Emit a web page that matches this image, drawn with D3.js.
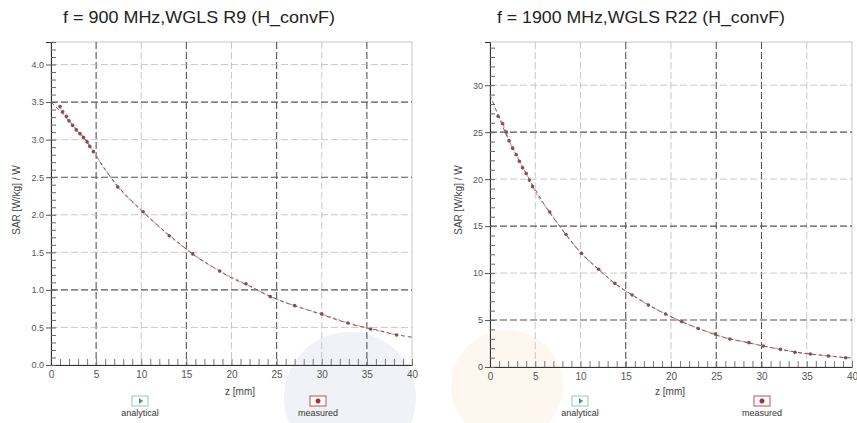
<!DOCTYPE html>
<html>
<head>
<meta charset="utf-8">
<script src="https://cdn.jsdelivr.net/npm/d3@7"></script>
<style>
body { margin: 0; background: #fff; }
text { font-family: "Liberation Sans", Arial, sans-serif; }
</style>
</head>
<body>
<div id="chart"></div>
<script>
// ---- data ----
var xTicks = [0, 5, 10, 15, 20, 25, 30, 35, 40];

var title900 = "f = 900 MHz,WGLS R9 (H_convF)";
var yTicks900 = [0, 0.5, 1.0, 1.5, 2.0, 2.5, 3.0, 3.5, 4.0];
var zMeas900 = [1.0, 1.3, 1.7, 2.0, 2.4, 2.8, 3.2, 3.6, 4.0, 4.3, 4.7, 7.4, 10.2, 13.1, 15.7, 18.7, 21.6, 24.3, 27.0, 30.0, 32.9, 35.4, 38.3];
var sarMeas900 = [3.44, 3.37, 3.31, 3.25, 3.19, 3.13, 3.08, 3.03, 2.97, 2.91, 2.84, 2.37, 2.04, 1.72, 1.48, 1.25, 1.08, 0.91, 0.79, 0.68, 0.56, 0.48, 0.40];
var zAna900 = [0, 2, 4, 6, 8, 10, 12, 14, 16, 18, 20, 22, 24, 26, 28, 30, 32, 34, 36, 38, 40];
var sarAna900 = [3.50, 3.25, 2.97, 2.60, 2.30, 2.06, 1.84, 1.64, 1.45, 1.30, 1.16, 1.05, 0.93, 0.83, 0.75, 0.67, 0.59, 0.52, 0.47, 0.41, 0.37];

var title1900 = "f = 1900 MHz,WGLS R22 (H_convF)";
var yTicks1900 = [0, 5, 10, 15, 20, 25, 30];
var zMeas1900 = [0.9, 1.4, 1.8, 2.1, 2.5, 2.9, 3.25, 3.6, 4.0, 4.35, 4.7, 6.6, 8.4, 10.1, 12.0, 13.8, 15.7, 17.5, 19.4, 21.2, 23.0, 24.9, 26.5, 28.6, 30.2, 32.1, 33.7, 35.4, 37.4, 39.3];
var sarMeas1900 = [26.7, 25.9, 25.0, 24.1, 23.3, 22.6, 21.9, 21.2, 20.6, 19.9, 19.2, 16.5, 14.1, 12.1, 10.4, 8.9, 7.66, 6.6, 5.64, 4.82, 4.1, 3.5, 2.98, 2.59, 2.23, 1.88, 1.56, 1.38, 1.17, 0.99];
var zAna1900 = [0, 2, 4, 6, 8, 10, 12, 14, 16, 18, 20, 22, 24, 26, 28, 30, 32, 34, 36, 38, 40];
var sarAna1900 = [29.0, 24.3, 20.6, 17.3, 14.6, 12.2, 10.4, 8.75, 7.5, 6.35, 5.35, 4.5, 3.75, 3.1, 2.7, 2.27, 1.9, 1.56, 1.32, 1.12, 0.95];

var legendLabels = ["analytical", "measured"];

var svg = d3.select("#chart").append("svg")
    .attr("width", 857)
    .attr("height", 423);

// faint round blotches in the scan
svg.append("circle").attr("cx", 350).attr("cy", 398).attr("r", 66).attr("fill", "#f0f2f7");
svg.append("circle").attr("cx", 507).attr("cy", 386).attr("r", 56).attr("fill", "#fef7ef");

function panel(p) {
  var x = d3.scaleLinear().domain([0, 40]).range([p.left, p.right]);
  var y = d3.scaleLinear().domain([0, p.yMax]).range([p.bottom, p.top]);
  var g = svg.append("g");

  // frame
  g.append("rect")
      .attr("x", p.left).attr("y", p.top)
      .attr("width", p.right - p.left).attr("height", p.bottom - p.top)
      .attr("fill", "none").attr("stroke", "#c8c8c8");

  // grid
  g.selectAll(".vg").data(xTicks.slice(1, -1)).enter().append("line")
      .attr("x1", function(d) { return x(d); }).attr("x2", function(d) { return x(d); })
      .attr("y1", p.top).attr("y2", p.bottom)
      .attr("stroke", function(d) { return p.darkX.indexOf(d) >= 0 ? "#555" : "#bbb"; })
      .attr("stroke-width", function(d) { return p.darkX.indexOf(d) >= 0 ? 1.1 : 0.8; })
      .attr("stroke-dasharray", "7,3");
  g.selectAll(".hg").data(p.yTicks.slice(1)).enter().append("line")
      .attr("x1", p.left).attr("x2", p.right)
      .attr("y1", function(d) { return y(d); }).attr("y2", function(d) { return y(d); })
      .attr("stroke", function(d) { return p.darkY.indexOf(d) >= 0 ? "#555" : "#bbb"; })
      .attr("stroke-width", function(d) { return p.darkY.indexOf(d) >= 0 ? 1.1 : 0.8; })
      .attr("stroke-dasharray", "7,3");

  // axes
  var xAxis = d3.axisBottom(x).tickValues(xTicks).tickSize(0).tickPadding(6);
  var gx = g.append("g").attr("transform", "translate(0," + p.bottom + ")").call(xAxis);
  gx.select(".domain").attr("stroke", "#333");
  gx.selectAll("text").attr("font-size", 10).attr("fill", "#555");

  var xMinor = d3.axisTop(x).ticks(40).tickSize(6).tickFormat("");
  var gxm = g.append("g").attr("transform", "translate(0," + p.bottom + ")").call(xMinor);
  gxm.select(".domain").remove();
  gxm.selectAll("line").attr("stroke", "#777");

  var yAxis = d3.axisLeft(y).tickValues(p.yTicks).tickSize(5).tickPadding(2).tickFormat(d3.format(p.fmt));
  var gy = g.append("g").attr("transform", "translate(" + p.left + ",0)").call(yAxis);
  gy.select(".domain").attr("stroke", "#333");
  gy.selectAll("line").attr("stroke", "#555");
  gy.selectAll("text").attr("font-size", 9).attr("fill", "#555");

  var yMinor = d3.axisRight(y).ticks(p.minorN).tickSize(5).tickFormat("");
  var gym = g.append("g").attr("transform", "translate(" + p.left + ",0)").call(yMinor);
  gym.select(".domain").remove();
  gym.selectAll("line").attr("stroke", "#666");

  // curves
  var line = d3.line().x(function(d) { return x(d[0]); }).y(function(d) { return y(d[1]); }).curve(d3.curveMonotoneX);
  var ana = d3.zip(p.zAna, p.sarAna);
  var meas = d3.zip(p.zMeas, p.sarMeas);
  g.append("path").datum(meas).attr("d", line)
      .attr("fill", "none").attr("stroke", "#e89a9a").attr("stroke-width", 1.2).attr("stroke-dasharray", "3,2");
  g.append("path").datum(ana).attr("d", line)
      .attr("fill", "none").attr("stroke", "#666").attr("stroke-width", 1).attr("stroke-dasharray", "4,3");
  g.selectAll(".pt").data(meas).enter().append("circle")
      .attr("cx", function(d) { return x(d[0]); }).attr("cy", function(d) { return y(d[1]); })
      .attr("r", 1.8).attr("fill", "#8c4b52");

  // titles
  g.append("text").attr("x", p.titleX).attr("y", 23).attr("text-anchor", "middle")
      .attr("font-size", 17).attr("fill", "#222")
      .attr("textLength", p.titleW).attr("lengthAdjust", "spacingAndGlyphs").text(p.title);
  g.append("text").attr("x", p.xLabX).attr("y", 395).attr("text-anchor", "middle")
      .attr("font-size", 10).attr("fill", "#444").text("z [mm]");
  g.append("text").attr("transform", "translate(" + p.yLabX + ",200) rotate(-90)")
      .attr("text-anchor", "middle").attr("font-size", 10).attr("fill", "#444").text("SAR [W/kg] / W");

  // legend
  var leg = g.selectAll(".leg").data(legendLabels).enter().append("g")
      .attr("transform", function(d, i) { return "translate(" + p.legX[i] + ",0)"; });
  leg.append("rect").attr("x", -8).attr("y", 396).attr("width", 16).attr("height", 10)
      .attr("fill", "#fff").attr("stroke", function(d, i) { return i ? "#c05050" : "#8fd0b0"; });
  leg.append("path")
      .attr("d", function(d, i) { return i ? "M0,398.5 a2.5,2.5 0 1,0 0.01,0" : "M-1,398 L3,401 L-1,404 Z"; })
      .attr("fill", function(d, i) { return i ? "#a03040" : "#3a9a70"; });
  leg.append("text").attr("y", 416).attr("text-anchor", "middle").attr("font-size", 9)
      .attr("fill", "#333").text(function(d) { return d; });
}

panel({ left: 51, right: 412, top: 42, bottom: 365, yMax: 4.3, yTicks: yTicks900, fmt: ".1f", minorN: 43,
  darkX: [5, 15, 25, 35], darkY: [1.0, 2.5, 3.5], title: title900, titleX: 199, titleW: 272, yLabX: 20,
  xLabX: 240, legX: [140, 318], zAna: zAna900, sarAna: sarAna900, zMeas: zMeas900, sarMeas: sarMeas900 });

panel({ left: 490, right: 852, top: 42, bottom: 367, yMax: 34.6, yTicks: yTicks1900, fmt: "d", minorN: 34,
  darkX: [15, 25, 30], darkY: [5, 15, 25], title: title1900, titleX: 641, titleW: 288, yLabX: 462,
  xLabX: 670, legX: [580, 762], zAna: zAna1900, sarAna: sarAna1900, zMeas: zMeas1900, sarMeas: sarMeas1900 });
</script>
</body>
</html>
